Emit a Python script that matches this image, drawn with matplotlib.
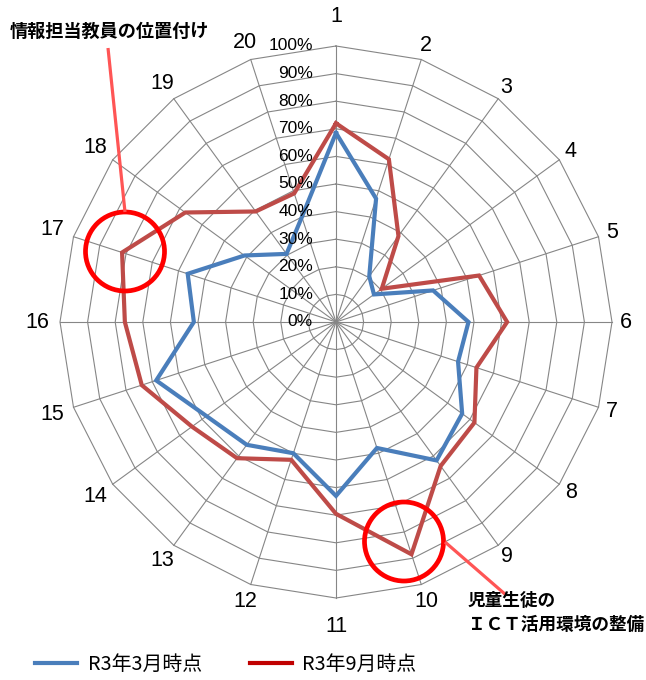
import numpy as np
import matplotlib
matplotlib.use("Agg")
import matplotlib.pyplot as plt
from matplotlib.lines import Line2D
from matplotlib.patches import Circle

# ---- data ----
categories = ["1", "2", "3", "4", "5", "6", "7", "8", "9", "10",
              "11", "12", "13", "14", "15", "16", "17", "18", "19", "20"]
march = [68.5, 47, 20.5, 17, 37, 48, 46.5, 56.5, 62, 48,
         63, 50, 55, 58, 68.5, 51.5, 56.5, 41, 30.5, 40]
september = [72, 62, 38.5, 20.5, 54.5, 62, 53.5, 62, 64.5, 88.5,
             69.5, 52.5, 61, 64.5, 74, 76.5, 81.5, 67.5, 49.5, 49]
series_names = ["R3年3月時点", "R3年9月時点"]
levels = [0, 10, 20, 30, 40, 50, 60, 70, 80, 90, 100]
level_labels = ["0%", "10%", "20%", "30%", "40%", "50%", "60%", "70%", "80%", "90%", "100%"]
callout_1 = "情報担当教員の位置付け"
callout_2 = ["児童生徒の", "ＩＣＴ活用環境の整備"]

# ---- style ----
BLUE = "#4A7EBB"
RED = "#BE4B48"
LEG_RED = "#C00000"
GRID = "#868686"
CJK = ["Noto Sans CJK JP", "DejaVu Sans"]
NUM = ["Liberation Sans", "DejaVu Sans"]

W, H = 646, 680
cx, cy, R = 336, 322, 276
PX = R / 100.0  # pixels per data unit
fig = plt.figure(figsize=(W / 100, H / 100), dpi=100)
ax = fig.add_axes([(cx - R) / W, (H - cy - R) / H, 2 * R / W, 2 * R / H],
                  projection="polar")
ax.set_theta_zero_location("N")
ax.set_theta_direction(-1)

N = len(categories)
theta = np.arange(N) * 2 * np.pi / N
theta_c = np.append(theta, theta[0])

for lv in levels[1:]:
    ax.plot(theta_c, [lv] * (N + 1), color=GRID, lw=0.8, zorder=1, clip_on=False)
for t in theta:
    ax.plot([t, t], [0, levels[-1]], color=GRID, lw=0.8, zorder=1, clip_on=False)

ax.plot(theta_c, march + march[:1], color=BLUE, lw=3.0, zorder=3,
        solid_joinstyle="miter", clip_on=False)
ax.plot(theta_c, september + september[:1], color=RED, lw=3.0, zorder=4,
        solid_joinstyle="miter", clip_on=False)

ax.set_ylim(0, 100)
ax.grid(False)
ax.set_xticks([])
ax.set_yticks([])
ax.spines["polar"].set_visible(False)
ax.patch.set_visible(False)

for lv, lab in zip(levels, level_labels):
    ax.annotate(lab, xy=(0, lv), xytext=(-23, 0), textcoords="offset pixels",
                ha="right", va="center", fontsize=12.5, family=NUM, zorder=5)

for t, cat in zip(theta, categories):
    r_px = 290 + (len(cat) - 1) * 9 * abs(np.sin(t)) + 15 * abs(np.cos(t)) ** 60
    ax.text(t, r_px / PX, cat, ha="center", va="center", fontsize=15.5, family=NUM)

# ---- overlay annotations (pixel coordinates) ----
ov = fig.add_axes([0, 0, 1, 1])
ov.set_xlim(0, W)
ov.set_ylim(H, 0)
ov.axis("off")
ov.patch.set_visible(False)
ov.set_zorder(5)

ov.plot([108, 125], [48, 212], color="#FF5555", lw=2.3, solid_capstyle="butt")
ov.plot([445, 506], [542, 595], color="#FF5555", lw=2.3, solid_capstyle="butt")
ov.add_patch(Circle((125, 251.5), 39.5, fill=False, ec="#FF0000", lw=3.4))
ov.add_patch(Circle((404, 541.5), 39.5, fill=False, ec="#FF0000", lw=3.4))

ov.text(10, 31, callout_1, ha="left", va="center", fontsize=13.1,
        fontweight="bold", family=CJK)
ov.text(468, 601, callout_2[0], ha="left", va="center", fontsize=12.7,
        fontweight="bold", family=CJK)
ov.text(468, 625, callout_2[1], ha="left", va="center", fontsize=12.7,
        fontweight="bold", family=CJK)

handles = [Line2D([], [], color=BLUE, lw=3), Line2D([], [], color=LEG_RED, lw=3)]
fig.legend(handles, series_names, loc="center", bbox_to_anchor=(226 / W, 1 - 664 / H),
           ncol=2, frameon=False, prop={"family": CJK, "size": 14.3},
           handlelength=2.1, handletextpad=0.55, columnspacing=2.4)

fig.savefig("out.png", dpi=100)
